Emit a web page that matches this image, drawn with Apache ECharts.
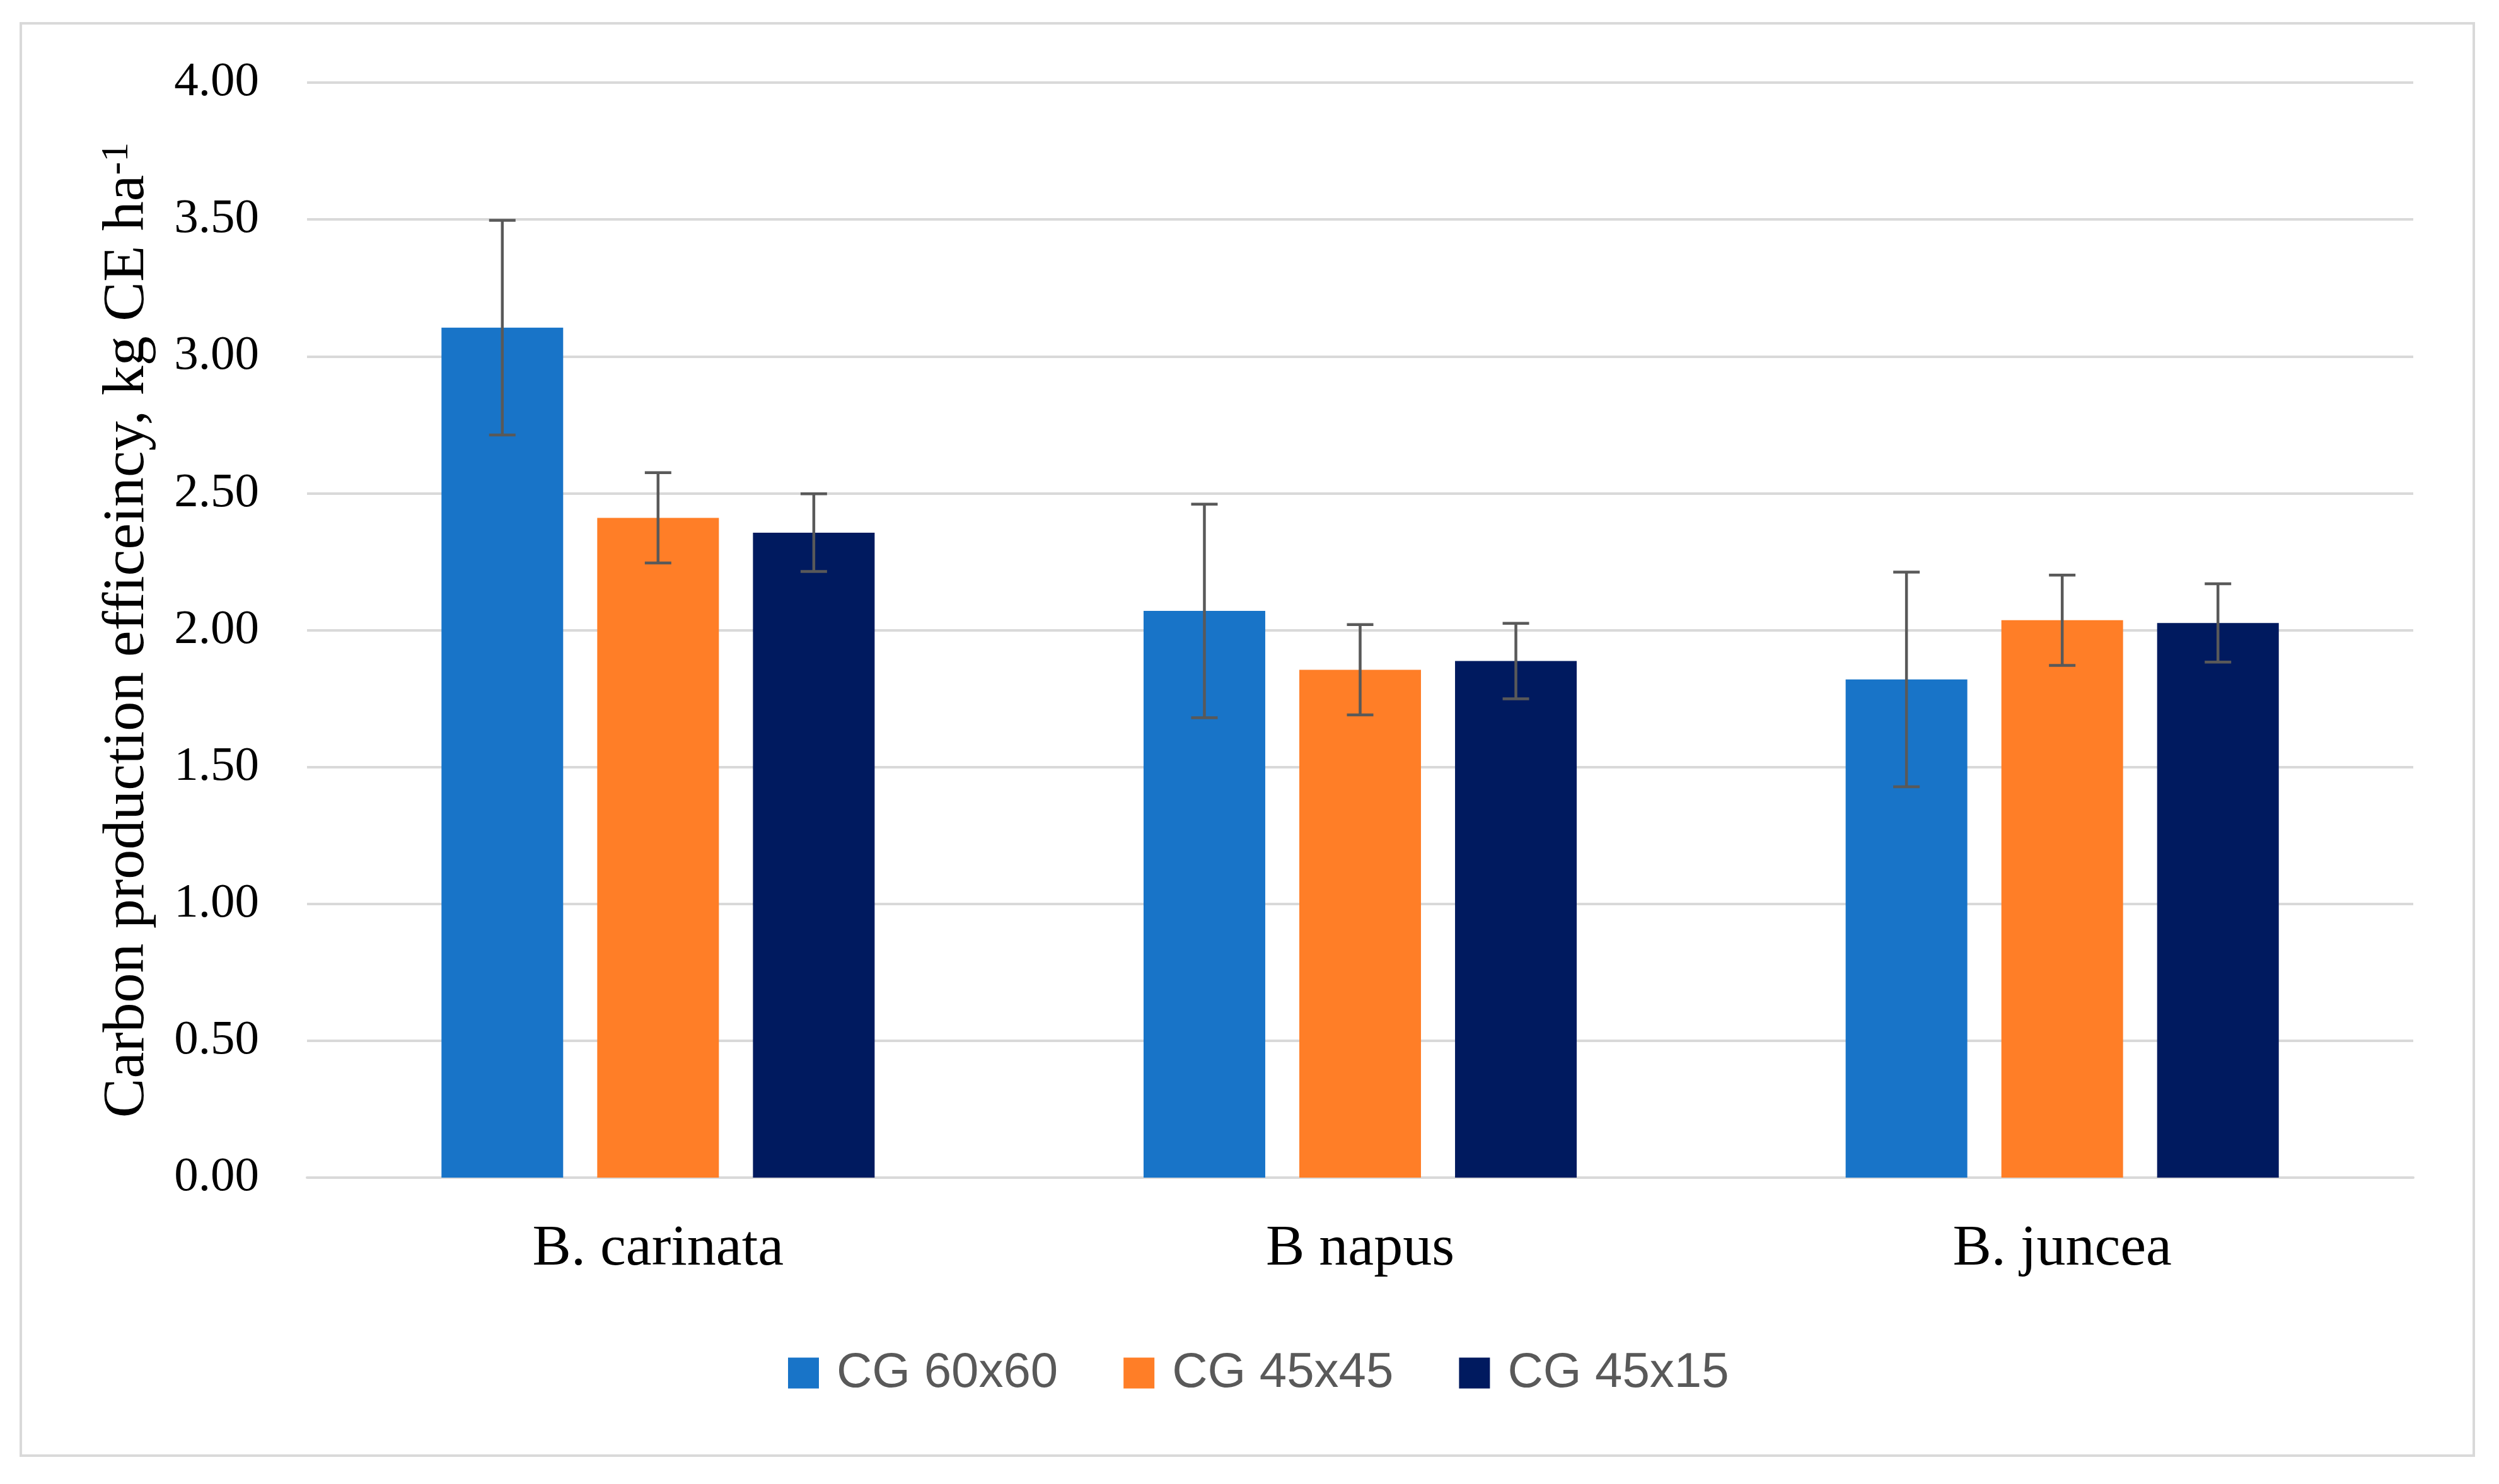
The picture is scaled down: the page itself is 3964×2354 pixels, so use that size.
<!DOCTYPE html>
<html>
<head>
<meta charset="utf-8">
<script src="https://cdn.jsdelivr.net/npm/echarts@6/dist/echarts.min.js"></script>
<style>
html, body { margin: 0; padding: 0; background: #ffffff; }
#chart { width: 3964px; height: 2354px; }
</style>
</head>
<body>
<div id="chart"></div>
<script>
const categories = ['B. carinata', 'B napus', 'B. juncea'];
const seriesNames = ['CG 60x60', 'CG 45x45', 'CG 45x15'];
const cg60x60 = [3.105, 2.07, 1.82];
const cg45x45 = [2.41, 1.855, 2.036];
const cg45x15 = [2.356, 1.887, 2.026];
const err60x60 = [0.392, 0.39, 0.392];
const err45x45 = [0.165, 0.165, 0.165];
const err45x15 = [0.142, 0.138, 0.143];
const colors = ['#1874C8', '#FF7E27', '#001A5F'];

const values = [cg60x60, cg45x45, cg45x15];
const errors = [err60x60, err45x45, err45x15];

const BAR_FRAC = 0.1733;
const GAP_FRAC = 0.28;

const chart = echarts.init(document.getElementById('chart'), null, { renderer: 'canvas' });

const barSeries = seriesNames.map((name, s) => ({
  name: name,
  type: 'bar',
  data: values[s],
  barWidth: (BAR_FRAC * 100) + '%',
  barGap: (GAP_FRAC * 100) + '%',
  itemStyle: { color: colors[s] },
  z: 2
}));

const errSeries = seriesNames.map((name, s) => ({
  type: 'custom',
  name: name + ' error',
  z: 5,
  silent: true,
  data: values[s].map((v, i) => [i, v - errors[s][i], v + errors[s][i]]),
  renderItem: function (params, api) {
    const band = api.size([1, 0])[0];
    const bw = band * BAR_FRAC;
    const gap = bw * GAP_FRAC;
    const total = 3 * bw + 2 * gap;
    const offset = -total / 2 + bw / 2 + s * (bw + gap);
    const lo = api.coord([api.value(0), api.value(1)]);
    const hi = api.coord([api.value(0), api.value(2)]);
    const x = lo[0] + offset;
    const cap = 21;
    const style = { stroke: '#595959', lineWidth: 4.5 };
    return {
      type: 'group',
      children: [
        { type: 'line', shape: { x1: x, y1: hi[1], x2: x, y2: lo[1] }, style: style },
        { type: 'line', shape: { x1: x - cap, y1: hi[1], x2: x + cap, y2: hi[1] }, style: style },
        { type: 'line', shape: { x1: x - cap, y1: lo[1], x2: x + cap, y2: lo[1] }, style: style }
      ]
    };
  }
}));

const option = {
  backgroundColor: '#ffffff',
  animation: false,
  color: colors,
  graphic: [{
    type: 'rect',
    shape: { x: 33, y: 37, width: 3891, height: 2272 },
    style: { fill: 'none', stroke: '#d9d9d9', lineWidth: 4 },
    silent: true
  }],
  grid: { left: 487, right: 136, top: 131, bottom: 486, containLabel: false },
  legend: {
    data: seriesNames,
    left: 1245,
    top: 2134,
    itemWidth: 49,
    itemHeight: 49,
    itemGap: 104,
    icon: 'rect',
    textStyle: {
      fontFamily: 'Liberation Sans',
      fontSize: 78,
      color: '#595959',
      padding: [0, 0, 0, 23]
    }
  },
  xAxis: {
    type: 'category',
    data: categories,
    axisTick: { show: false },
    axisLine: { show: true, lineStyle: { color: '#d9d9d9', width: 4 } },
    axisLabel: {
      fontFamily: 'Liberation Serif',
      fontSize: 92,
      color: '#000000',
      margin: 68
    }
  },
  yAxis: {
    type: 'value',
    min: 0,
    max: 4,
    interval: 0.5,
    axisLine: { show: false },
    axisTick: { show: false },
    splitLine: { show: true, lineStyle: { color: '#d9d9d9', width: 4 } },
    axisLabel: {
      fontFamily: 'Liberation Serif',
      fontSize: 77,
      color: '#000000',
      margin: 76,
      formatter: function (v) { return v.toFixed(2); }
    },
    name: '{a|Carbon production efficeincy, kg CE ha}{s|-1}',
    nameLocation: 'middle',
    nameGap: 238,
    nameTextStyle: {
      fontFamily: 'Liberation Serif',
      color: '#000000',
      rich: {
        a: { fontFamily: 'Liberation Serif', fontSize: 94, color: '#000000' },
        s: { fontFamily: 'Liberation Serif', fontSize: 62, color: '#000000', verticalAlign: 'top', lineHeight: 50 }
      }
    }
  },
  series: barSeries.concat(errSeries)
};

chart.setOption(option);
</script>
</body>
</html>
